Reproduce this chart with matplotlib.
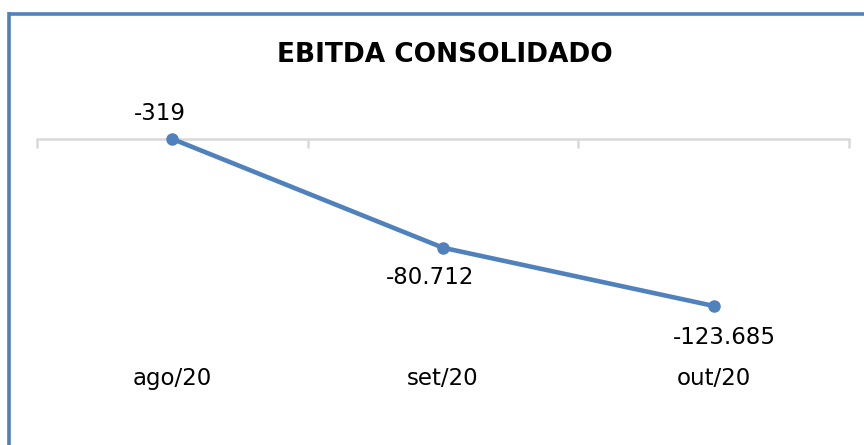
import matplotlib
matplotlib.use("Agg")
import matplotlib.pyplot as plt
from matplotlib.lines import Line2D
import matplotlib.transforms as mtransforms

categories = ["ago/20", "set/20", "out/20"]
values = [-319, -80712, -123685]
title = "EBITDA CONSOLIDADO"

W, H = 864, 445
fig = plt.figure(figsize=(W / 100, H / 100), dpi=100)
plt.rcParams['font.family'] = ['DejaVu Sans']

def fx(px):
    return px / W

def fy(py):
    return 1 - py / H

ax_left, ax_right = 37, 849
ax_top, ax_bot = 138.5, 328
ax = fig.add_axes([fx(ax_left), fy(ax_bot), fx(ax_right - ax_left), (ax_bot - ax_top) / H])

x = list(range(len(categories)))
blue = "#4F81BD"
ax.plot(x, values, color=blue, lw=3.3, marker="o", markersize=8, solid_capstyle="round", zorder=3, clip_on=False)
ax.set_xlim(-0.5, len(categories) - 0.5)
ax.set_ylim(-140000, 0)

for s in ["left", "right", "bottom"]:
    ax.spines[s].set_visible(False)
ax.spines["top"].set_color("#D9D9D9")
ax.spines["top"].set_linewidth(1.8)
ax.set_yticks([])
ax.xaxis.set_ticks_position("top")
ax.set_xticks([i - 0.5 for i in range(len(categories) + 1)])
ax.set_xticklabels([])
ax.tick_params(axis="x", direction="in", length=6.5, width=1.8, color="#D9D9D9")

def fmt(v):
    s = f"{abs(v):,}".replace(",", ".")
    return ("-" if v < 0 else "") + s

label_font = dict(fontsize=16.5, color="#000000")
offsets = [(-12, 28), (-13, -27), (11, -29.5)]
for i, v in enumerate(values):
    ax.annotate(fmt(v), (i, v), xytext=offsets[i], textcoords="offset pixels",
                ha="center", va="center_baseline", **label_font)

trans = mtransforms.blended_transform_factory(ax.transData, ax.transAxes)
for i, c in enumerate(categories):
    ax.text(i, -(376 - ax_bot) / (ax_bot - ax_top), c, transform=trans,
            ha="center", va="center_baseline", **label_font)

fig.text(fx(444.5), fy(52), title, ha="center", va="center_baseline",
         fontsize=19, fontweight="bold", color="#000000")

fig.add_artist(Line2D([fx(9.2), fx(9.2)], [fy(12), 0], transform=fig.transFigure,
                      color=blue, lw=2.6, solid_capstyle="butt"))
fig.add_artist(Line2D([fx(7.5), 1], [fy(13.5), fy(13.5)], transform=fig.transFigure,
                      color=blue, lw=2.6, solid_capstyle="butt"))

fig.savefig("out.png", dpi=100)
